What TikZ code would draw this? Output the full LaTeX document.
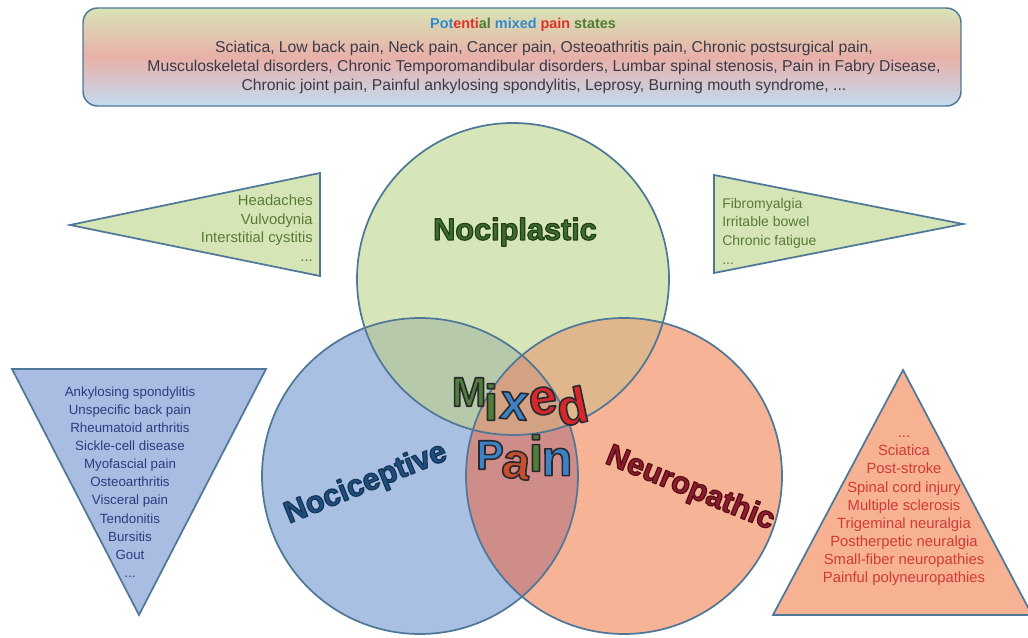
\documentclass[tikz,border=0pt]{standalone}
\usepackage{fontspec}
\setmainfont{Liberation Sans}
\definecolor{gtop}{HTML}{D8E3B6}
\definecolor{gmid}{HTML}{E8B0A8}
\definecolor{gbot}{HTML}{C3DBF1}
\definecolor{edge}{HTML}{4F7898}
\definecolor{boxtext}{HTML}{3A3A48}
\definecolor{tblue}{HTML}{2F8ACB}
\definecolor{tred}{HTML}{E0302A}
\definecolor{tgreen}{HTML}{4E7F32}
\definecolor{afill}{HTML}{D7E6B8}
\definecolor{bfill}{HTML}{AAC0E3}
\definecolor{cfill}{HTML}{F6B395}
\definecolor{abfill}{HTML}{B6C9AB}
\definecolor{acfill}{HTML}{E0B68D}
\definecolor{bcfill}{HTML}{CF8D89}
\definecolor{abcfill}{HTML}{D2A283}
\definecolor{gtri}{HTML}{D5E5B6}
\definecolor{btri}{HTML}{A9BDE2}
\definecolor{stri}{HTML}{F6B293}
\definecolor{gtxt}{HTML}{5A7B38}
\definecolor{btxt}{HTML}{2B3C7E}
\definecolor{stxt}{HTML}{D23A34}
\definecolor{npfill}{HTML}{3E6C2B}
\definecolor{ncfill}{HTML}{1F4E7E}
\definecolor{nrfill}{HTML}{8E1C2C}
\definecolor{mgreen}{HTML}{4F7F37}
\definecolor{mblue}{HTML}{3C82C4}
\definecolor{mred}{HTML}{D8262A}
\definecolor{morange}{HTML}{C8502E}
% outlined text: #1 stroke colour as "r g b", #2 stroke width, #3 text
\newcommand{\outlinedtext}[3]{\special{pdf:literal direct #1 RG #2 w 1 j 2 Tr}#3\special{pdf:literal direct 0 Tr}}
\tikzset{
  shapeline/.style={draw=edge, line width=1.3pt},
  listtext/.style={inner sep=0pt, font=\fontsize{10.5}{14}\selectfont},
  biglabel/.style={inner sep=0pt, font=\fontsize{23}{23}\selectfont\bfseries},
  mixletter/.style={inner sep=0pt, font=\fontsize{38}{38}\selectfont\bfseries},
  mixcap/.style={inner sep=0pt, font=\fontsize{31}{31}\selectfont\bfseries}
}
\begin{document}
\begin{tikzpicture}[x=0.75pt,y=-0.75pt]
\useasboundingbox (0,0) rectangle (1028,638);
% top box
\draw[shapeline, line width=1.1pt, rounded corners=11pt, top color=gtop, bottom color=gbot, middle color=gmid] (83,8) rectangle (961,106);
\node[inner sep=0pt, font=\fontsize{10.8}{12}\selectfont\bfseries] (title) at (523,25)
  {\textcolor{tblue}{Pot}\textcolor{tred}{enti}\textcolor{tgreen}{al} \textcolor{tblue}{mixed} \textcolor{tred}{pain} \textcolor{tgreen}{states}};
\node[listtext, text=boxtext, align=center, font=\fontsize{11.8}{14.25}\selectfont] (states) at (544,67)
  {Sciatica, Low back pain, Neck pain, Cancer pain, Osteoathritis pain, Chronic postsurgical pain,\\
   Musculoskeletal disorders, Chronic Temporomandibular disorders, Lumbar spinal stenosis, Pain in Fabry Disease,\\
   Chronic joint pain, Painful ankylosing spondylitis, Leprosy, Burning mouth syndrome, ...};
% triangles
\draw[shapeline, fill=gtri] (70,225) -- (320,173) -- (320,276) -- cycle;
\draw[shapeline, fill=gtri] (714,175) -- (963,224) -- (714,273) -- cycle;
\draw[shapeline, fill=btri] (12,369) -- (266,369) -- (139,615) -- cycle;
\draw[shapeline, fill=stri] (903,370) -- (1032,615) -- (773,615) -- cycle;
\node[listtext, text=gtxt, align=right, anchor=east, font=\fontsize{11.1}{14}\selectfont] (leftlist) at (313,228)
  {Headaches\\Vulvodynia\\Interstitial cystitis\\...};
\node[listtext, text=gtxt, align=left, anchor=west] (rightlist) at (722,231)
  {Fibromyalgia\\Irritable bowel\\Chronic fatigue\\...};
\node[listtext, text=btxt, align=center, font=\fontsize{10}{13.6}\selectfont] (ceptlist) at (130,482)
  {Ankylosing spondylitis\\Unspecific back pain\\Rheumatoid arthritis\\Sickle-cell disease\\Myofascial pain\\Osteoarthritis\\Visceral pain\\Tendonitis\\Bursitis\\Gout\\...};
\node[listtext, text=stxt, align=center, font=\fontsize{11.1}{13.6}\selectfont] (neurolist) at (904,511)
  {...\\Sciatica\\Post-stroke\\Spinal cord injury\\Multiple sclerosis\\Trigeminal neuralgia\\Postherpetic neuralgia\\Small-fiber neuropathies\\Painful polyneuropathies};
% circles
\fill[afill] (513,279) circle[radius=156];
\fill[bfill] (420,476) circle[radius=158];
\fill[cfill] (624,476) circle[radius=158];
\begin{scope}
  \clip (513,279) circle[radius=156];
  \fill[abfill] (420,476) circle[radius=158];
  \fill[acfill] (624,476) circle[radius=158];
\end{scope}
\begin{scope}
  \clip (420,476) circle[radius=158];
  \fill[bcfill] (624,476) circle[radius=158];
  \clip (624,476) circle[radius=158];
  \fill[abcfill] (513,279) circle[radius=156];
\end{scope}
\draw[shapeline] (513,279) circle[radius=156];
\draw[shapeline] (420,476) circle[radius=158];
\draw[shapeline] (624,476) circle[radius=158];
% labels
\node[biglabel, text=npfill] (nocipl) at (515,232) {\outlinedtext{0.13 0.25 0.10}{0.9}{Nociplastic}};
\node[biglabel, text=ncfill, rotate=22] (nocicept) at (366,484) {\outlinedtext{0.08 0.21 0.34}{0.9}{Nociceptive}};
\node[biglabel, text=nrfill, rotate=-22] (neuro) at (690,489) {\outlinedtext{0.33 0.06 0.10}{0.9}{Neuropathic}};
% Mixed Pain
\node[mixcap, text=mgreen] (mM) at (469,392) {\outlinedtext{0.16 0.16 0.19}{1.2}{M}};
\node[mixletter, text=mgreen] (mi) at (491,402) {\outlinedtext{0.16 0.16 0.19}{1.2}{i}};
\node[mixletter, text=mblue, rotate=-5] (mx) at (514,406) {\outlinedtext{0.16 0.16 0.19}{1.2}{x}};
\node[mixletter, text=mred, rotate=8] (me) at (543,401) {\outlinedtext{0.16 0.16 0.19}{1.2}{e}};
\node[mixletter, text=mred, rotate=12] (md) at (572,406) {\outlinedtext{0.16 0.16 0.19}{1.2}{d}};
\node[mixcap, text=mblue] (pP) at (490,455) {\outlinedtext{0.16 0.16 0.19}{1.2}{P}};
\node[mixletter, text=morange, rotate=-8] (pa) at (516,465) {\outlinedtext{0.16 0.16 0.19}{1.2}{a}};
\node[mixletter, text=mgreen] (pi) at (536,453) {\outlinedtext{0.16 0.16 0.19}{1.2}{i}};
\node[mixletter, text=mblue] (pn) at (557,462) {\outlinedtext{0.16 0.16 0.19}{1.2}{n}};
\end{tikzpicture}
\end{document}
